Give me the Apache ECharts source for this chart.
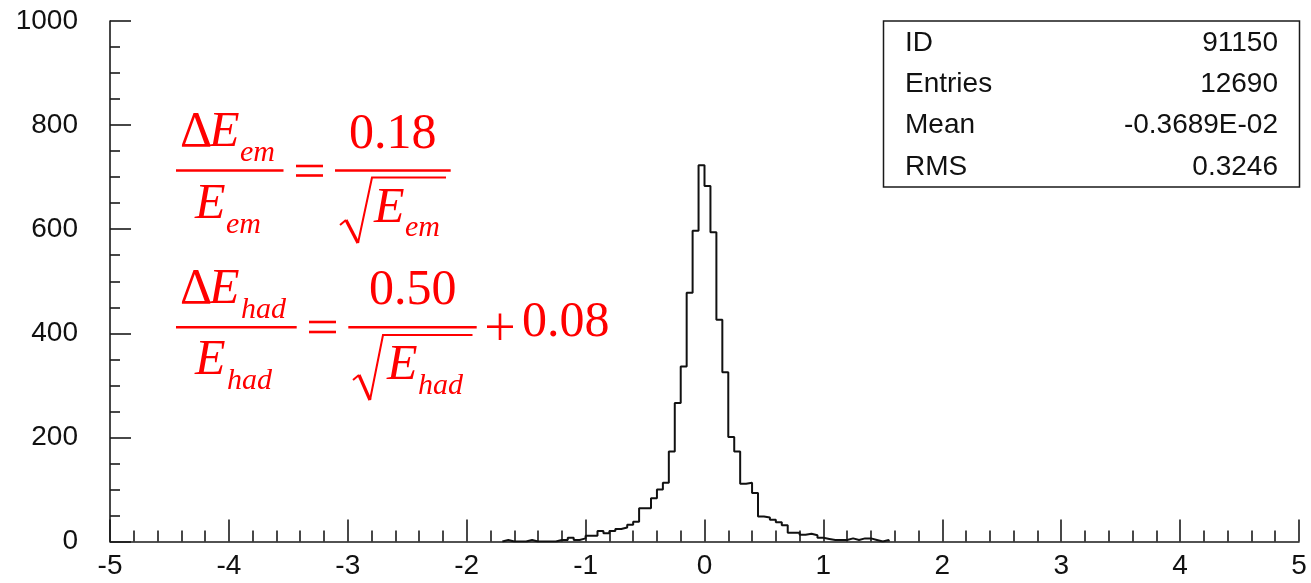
<!DOCTYPE html>
<html><head><meta charset="utf-8">
<script src="https://cdn.jsdelivr.net/npm/echarts@6/dist/echarts.min.js"></script>
<style>html,body{margin:0;padding:0;background:#fff}#c{width:1311px;height:583px}</style>
</head><body><div id="c"></div>
<script>
// ---- data ----
const binWidth = 0.05;
const firstBinEdge = -1.70;
const counts = [3,0,0,0,3,0,0,0,0,3,3,7,3,6,11,11,20,16,20,24,27,32,38,64,64,83,100,113,173,266,336,478,597,723,683,594,426,325,201,173,111,113,93,48,46,42,37,31,17,17,13,15,12,7,5,3,3,3,6,3,6,6,3,0,3];
const xTicks = [-5,-4,-3,-2,-1,0,1,2,3,4,5];
const yTicks = [0,200,400,600,800,1000];
const statLabels = ['ID','Entries','Mean','RMS'];
const statValues = ['91150','12690','-0.3689E-02','0.3246'];

// ---- build histogram outline ----
const edge = i => Math.round((firstBinEdge + i*binWidth)*1000)/1000;
const pts = [[edge(0),0]];
counts.forEach((c,i)=>pts.push([edge(i),c]));
pts.push([edge(counts.length), counts[counts.length-1]]);
pts.push([edge(counts.length), 0]);

const chart = echarts.init(document.getElementById('c'), null, {renderer:'canvas'});
const AX = '#1a1a1a';
const LF = '"Liberation Sans", Arial, sans-serif';
const SF = '"Liberation Serif", "Times New Roman", serif';
const RED = '#ff0000';

const g = [];
function txt(s, x, base, size, italic, align){
  g.push({type:'text', silent:true, z:10, style:{text:s, x:x, y:base - 0.34*size, fontSize:size,
    fontFamily:SF, fontStyle: italic?'italic':'normal', fill:RED, align:align||'left', verticalAlign:'middle'}});
}
function line(x1,y1,x2,y2,w){
  g.push({type:'line', silent:true, z:10, shape:{x1,y1,x2,y2}, style:{stroke:RED, lineWidth:w||2.5}});
}
function poly(p,w){
  g.push({type:'polyline', silent:true, z:10, shape:{points:p}, style:{stroke:RED, lineWidth:w||2.5, fill:null}});
}
const BIG = 50, SUB = 30;
// formula 1
txt('\u0394',180,150,BIG,false); txt('E',209,150,BIG,true); txt('em',240,163,SUB,true);
line(176,170.5,283.5,170.5);
txt('E',195,221.7,BIG,true); txt('em',226,235,SUB,true);
line(296,166,323,166,2.6); line(296,175.5,323,175.5,2.6);
txt('0.18',349,151.7,BIG,false);
line(335,170.5,450.7,170.5);
poly([[340,225],[346,220]],2);
poly([[346,220],[358,243]],3.2);
poly([[358,243],[372,177.5],[446,177.5]],2);
txt('E',374,226,BIG,true); txt('em',405,238.5,SUB,true);
// formula 2
txt('\u0394',180,306.7,BIG,false); txt('E',209,306.7,BIG,true); txt('had',241,320,SUB,true);
line(176,327.3,296.7,327.3);
txt('E',195,378.3,BIG,true); txt('had',227,391.7,SUB,true);
line(309,322,336,322,2.6); line(309,332,336,332,2.6);
txt('0.50',369,308.3,BIG,false);
line(348.3,327.3,476.7,327.3);
poly([[353,380],[359,375]],2);
poly([[359,375],[370,400]],3.2);
poly([[370,400],[383,335],[472.5,335]],2);
txt('E',387,383.3,BIG,true); txt('had',418,396.7,SUB,true);
line(487,326.7,513,326.7,2.6); line(500,313.5,500,340,2.6);
txt('0.08',522,340,BIG,false);

// stats box
g.push({type:'rect', silent:true, z:10, shape:{x:883.5,y:21,width:416,height:166},
  style:{fill:'#fff', stroke:AX, lineWidth:1.5}});
const rowY = [43.5, 84, 125.5, 167];
statLabels.forEach((s,i)=>{
  g.push({type:'text', silent:true, z:11, style:{text:s, x:905, y:rowY[i], fontSize:28, fontFamily:LF, fill:'#111', align:'left', verticalAlign:'middle'}});
  g.push({type:'text', silent:true, z:11, style:{text:statValues[i], x:1278, y:rowY[i], fontSize:28, fontFamily:LF, fill:'#111', align:'right', verticalAlign:'middle'}});
});

const axLine = {show:true, onZero:false, lineStyle:{color:AX, width:1.6}};
chart.setOption({
  animation:false,
  backgroundColor:'#fff',
  grid:{left:110, right:12, top:21, bottom:41.5, containLabel:false},
  xAxis:{type:'value', min:xTicks[0], max:xTicks[xTicks.length-1], interval:1,
    axisLine:axLine,
    axisTick:{show:true, inside:true, length:22, lineStyle:{color:AX, width:1.6}},
    minorTick:{show:true, splitNumber:5, length:11, lineStyle:{color:AX, width:1.6}},
    splitLine:{show:false}, minorSplitLine:{show:false},
    axisLabel:{fontSize:28, fontFamily:LF, color:'#111', margin:11, formatter:v=>String(v)}},
  yAxis:{type:'value', min:yTicks[0], max:yTicks[yTicks.length-1], interval:200,
    axisLine:axLine,
    axisTick:{show:true, inside:true, length:21, lineStyle:{color:AX, width:1.6}},
    minorTick:{show:true, splitNumber:4, length:10, lineStyle:{color:AX, width:1.6}},
    splitLine:{show:false}, minorSplitLine:{show:false},
    axisLabel:{fontSize:28, fontFamily:LF, color:'#111', margin:32, formatter:v=>String(v)}},
  series:[{type:'line', step:'end', data:pts, symbol:'none', silent:true,
    lineStyle:{color:'#111', width:2}, z:5}],
  graphic:g
});
</script></body></html>
